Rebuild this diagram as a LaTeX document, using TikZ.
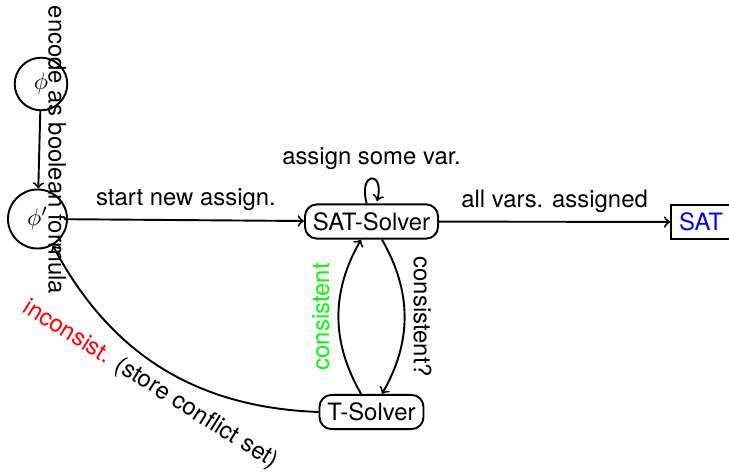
\documentclass[tikz,border=0pt]{standalone}
\usepackage{fontspec}
\setmainfont{TeX Gyre Heros}
\begin{document}
\begin{tikzpicture}[x=0.4184pt,y=0.4184pt,thick,
  state/.style={draw,circle,inner sep=0pt},
  solver/.style={draw,rounded corners=5pt},
  resultbox/.style={draw,text=blue},
  every edge/.style={draw,->}]
\useasboundingbox (0,0) rectangle (729,-473);
\node[state,minimum size=22pt] (phi) at (41,-84) {$\phi$};
\node[state,minimum size=24.7pt] (phip) at (37.5,-219) {$\phi'$};
\node[solver] (sat) at (371.5,-221.5) {SAT-Solver};
\node[solver] (ts) at (371.5,-412) {T-Solver};
\node[resultbox] (res) at (701,-222) {SAT};
\path (phi) edge node[rotate=-90,anchor=south] {encode as boolean formula} (phip)
      (phip) edge node[above] {start new assign.} (sat)
      (sat) edge[loop above] node[above] {assign some var.} (sat)
      (sat) edge node[above] {all vars. assigned} (res)
      (sat) edge[bend left=30] node[above,sloped] {consistent?} (ts)
      (ts) edge[bend left=30] node[above,sloped,text=green] {consistent} (sat)
      (ts) edge[bend left=30] node[below,sloped] {\textcolor{red}{inconsist.} (store conflict set)} (phip);
\end{tikzpicture}
\end{document}
